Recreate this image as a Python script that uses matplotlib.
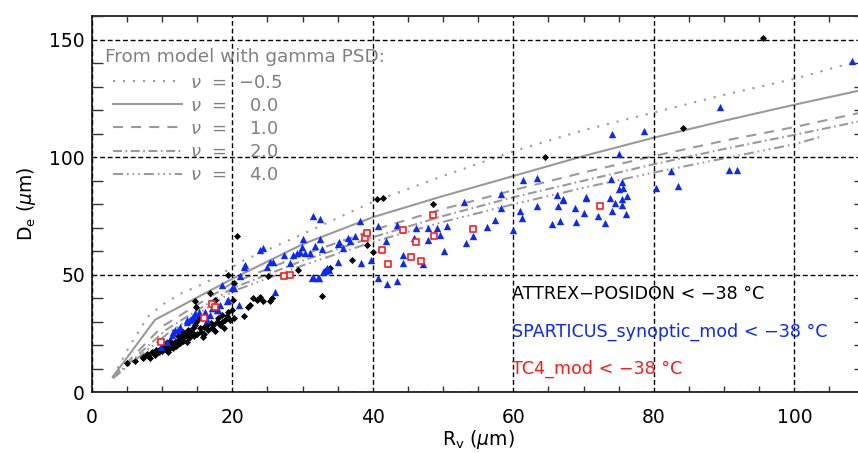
import matplotlib
matplotlib.use('Agg')
import matplotlib.pyplot as plt
from matplotlib.lines import Line2D
from matplotlib.ticker import MultipleLocator

plt.rcParams['font.family'] = ['DejaVu Sans']
plt.rcParams['mathtext.fontset'] = 'dejavusans'

# ---------------- model curves (gamma PSD) ----------------
rv_nu_m05 = [3, 5.2, 8, 10.4, 12.8, 16.1, 19.4, 21.3, 28.2, 40, 50, 60, 70, 80, 90, 100, 108]
de_nu_m05 = [6.5, 18.8, 32.3, 38, 42.2, 46.5, 52.1, 55.7, 64.9, 81, 92, 102.5, 111.5, 119, 126.5, 133.3, 140]

rv_nu_0 = [3, 9, 20, 30, 40, 50, 60, 70, 80, 90, 100, 110]
de_nu_0 = [6.7, 30.9, 48.3, 63, 74.5, 83.5, 92, 100.5, 108.3, 115.5, 122.3, 128.8]

rv_nu_1 = [3, 10, 20, 30, 40, 50, 60, 70, 80, 90, 100, 110]
de_nu_1 = [6.5, 28, 46.5, 58.5, 69, 78, 86, 93.5, 100.5, 107, 112.8, 119.3]

rv_nu_2 = [3, 10.5, 20, 30, 40, 50, 60, 70, 80, 90, 100, 110]
de_nu_2 = [6.3, 26.5, 44.3, 56, 66, 75, 83, 90, 97, 103.5, 109.5, 115.7]

rv_nu_4 = [3, 11, 20, 30, 40, 50, 60, 70, 80, 90, 100, 104]
de_nu_4 = [6, 25.5, 42.9, 54, 64, 72.5, 80, 87, 93.5, 99.5, 105.5, 108.9]

legend_title = 'From model with gamma PSD:'
nu_labels = ['$\\nu$  =  \u22120.5', '$\\nu$  =    0.0', '$\\nu$  =    1.0',
             '$\\nu$  =    2.0', '$\\nu$  =    4.0']

# ---------------- observations ----------------
attrex_rv = [5.0, 7.3, 7.3, 8.0, 8.0, 8.5, 8.8, 9.2, 9.7, 10.2, 10.4, 10.7, 11.1, 11.4, 11.8, 12.1,
             12.3, 12.6, 12.8, 13.0, 13.3, 13.5, 13.7, 14.0, 14.2, 14.4, 14.7, 14.9, 15.2, 14.7,
             14.9, 15.4, 15.6, 15.9, 16.1, 16.4, 16.6, 16.8, 17.1, 17.3, 17.5, 17.8, 18.0, 18.2,
             18.5, 19.0, 19.2, 19.4, 19.7, 19.9, 20.1, 19.4, 20.6, 20.2, 20.2, 21.7, 22.3, 22.5,
             23.0, 23.5, 23.9, 24.4, 25.4, 25.6, 25.1, 29.4, 32.7, 33.4, 33.9, 37.0, 39.1, 39.1,
             40.0, 40.6, 41.5, 48.5, 64.5, 84.2, 95.5,
             9.5, 10.0, 11.0, 11.5, 12.0, 12.5, 13.0, 13.8, 14.5, 15.0, 10.5, 11.2, 12.2, 16.0,
             17.5, 18.8, 7.8, 9.0, 8.3, 6.2, 10.9, 13.6, 15.8, 17.0, 18.6]
attrex_de = [12.4, 14.5, 15.2, 15.3, 15.9, 17.3, 17.4, 18.1, 18.4, 19.2, 20.2, 18.1, 19.5, 20.9, 21.6, 20.2,
             22.3, 23.5, 24.5, 25.9, 23.8, 25.2, 26.6, 24.5, 25.9, 27.3, 28.7, 30.1, 31.6, 38.7,
             36.5, 27.3, 25.9, 28.0, 32.3, 28.7, 26.6, 42.2, 27.3, 28.7, 39.4, 30.1, 31.6, 28.7,
             30.1, 30.9, 32.3, 34.4, 30.9, 35.1, 39.4, 50.0, 66.3, 46.4, 31.6, 32.7, 36.2, 37.2,
             40.0, 39.5, 40.5, 39.0, 39.0, 40.0, 49.3, 52.1, 41.1, 52.1, 52.8, 56.4, 62.7, 67.7,
             59.9, 82.2, 82.6, 80.2, 100.0, 112.4, 150.7,
             17.0, 17.8, 18.5, 19.0, 19.8, 21.0, 22.0, 23.0, 24.0, 25.0, 21.0, 22.0, 24.0, 25.0,
             26.0, 27.5, 16.5, 16.0, 14.8, 13.5, 17.2, 21.5, 23.6, 29.5, 32.8]

sparticus_rv = [10.7, 11.4, 11.8, 12.6, 13.5, 14.2, 14.7, 15.2, 16.4, 16.8, 17.3, 18.0, 18.2, 18.5,
                19.4, 19.9, 20.9, 21.1, 21.6,
                9.9, 11.6, 12.3, 13.5, 14.0, 14.5, 16.1, 17.1, 17.8, 19.2, 20.2, 21.8, 23.9, 24.4,
                24.9, 25.4, 25.8, 26.1, 27.3, 28.2, 28.7, 29.2, 29.9, 30.4, 31.1, 31.3, 32.2, 32.5,
                33.2, 33.7, 35.1,
                31.5, 32.5, 30.1, 29.6, 31.8, 32.7, 31.5, 32.3, 32.9, 33.5, 35.1, 35.2, 35.7, 36.5,
                36.8, 37.5, 38.2, 38.3, 39.8, 40.8, 40.8, 41.9, 42.0, 43.5, 43.5, 44.3, 44.3, 45.8,
                46.2, 47.1, 47.8, 47.8, 49.1, 49.5, 50.1, 50.5, 53.0, 53.3, 54.3, 56.2, 57.4, 58.3,
                58.3, 60.0, 61.0, 61.3, 61.4, 63.3, 63.3, 66.4, 66.6, 67.1, 68.8, 68.9, 70.0, 70.4,
                108.2, 89.4, 74.0, 78.6, 75.0, 90.7, 91.9, 82.4, 73.9, 75.5, 83.5, 80.3, 75.1, 75.6,
                76.2, 75.4, 70.4, 73.7, 66.2, 67.1,
                74.5, 75.5, 74.0, 72.0, 76.0, 73.0, 65.5]
sparticus_de = [21.6, 24.5, 26.6, 28.0, 30.1, 31.6, 33.7, 34.4, 30.9, 33.0, 35.8, 35.1, 37.2, 45.7,
                39.4, 44.3, 37.2, 49.3, 53.5,
                19.5, 25.9, 26.6, 30.9, 30.9, 32.3, 34.4, 35.8, 35.1, 38.7, 44.3, 54.2, 60.6, 61.3,
                53.5, 55.6, 55.6, 42.9, 58.5, 55.0, 58.5, 59.2, 62.0, 59.2, 59.2, 48.6, 48.6, 65.3,
                51.8, 52.1, 63.3,
                74.8, 73.7, 65.2, 59.9, 62.1, 60.9, 49.0, 48.6, 51.4, 52.8, 55.3, 63.8, 61.4, 65.6,
                64.2, 66.3, 72.7, 55.0, 56.4, 70.6, 48.6, 64.2, 46.2, 47.2, 71.3, 58.5, 55.0, 65.6,
                69.9, 54.7, 69.9, 64.9, 69.9, 67.0, 60.0, 70.9, 80.8, 63.5, 66.6, 70.3, 73.1, 78.4,
                84.5, 69.2, 77.0, 74.1, 90.4, 91.0, 79.1, 79.1, 72.7, 81.9, 78.4, 72.3, 76.2, 82.6,
                140.8, 121.3, 110.0, 111.0, 101.4, 94.7, 94.7, 94.0, 90.7, 89.6, 87.6, 86.9, 86.5, 86.7,
                83.3, 82.2, 82.9, 82.6, 84.1, 82.2,
                80.5, 79.5, 77.0, 75.0, 76.0, 72.0, 71.5]

tc4_rv = [9.9, 15.9, 17.1, 17.5, 27.3, 28.2, 38.9, 39.2, 41.3, 42.2, 44.3, 45.4, 46.1, 46.9,
          48.6, 48.7, 54.3, 72.3]
tc4_de = [21.6, 31.6, 37.7, 36.5, 49.4, 50.1, 65.6, 67.7, 60.5, 54.7, 68.9, 57.5, 63.8, 55.7,
          75.3, 66.7, 69.6, 79.1]

obs_labels = ['ATTREX\u2212POSIDON < \u221238 \u00b0C',
              'SPARTICUS_synoptic_mod < \u221238 \u00b0C',
              'TC4_mod < \u221238 \u00b0C']

# ---------------- figure ----------------
fig = plt.figure(figsize=(8.58, 4.53), dpi=100)
ax = fig.add_axes([0.107, 0.1336, 0.9007, 0.831])

gray = '#9a9a9a'
lw = 1.5
styles = [(0, (1, 3.8)), '-', (0, (4.8, 3.9)), (0, (4.3, 1.7, 0.8, 1.7)),
          (0, (4.8, 1.9, 0.8, 1.9, 0.8, 1.9, 0.8, 1.9))]
curves = [(rv_nu_m05, de_nu_m05), (rv_nu_0, de_nu_0), (rv_nu_1, de_nu_1),
          (rv_nu_2, de_nu_2), (rv_nu_4, de_nu_4)]
handles = []
for (xs, ys), ls in zip(curves, styles):
    ax.plot(xs, ys, color=gray, lw=lw, linestyle=ls, zorder=2)
    handles.append(Line2D([], [], color=gray, lw=lw, linestyle=ls))

ax.scatter(attrex_rv, attrex_de, marker='D', s=13, color='black', linewidths=0, zorder=3)
ax.scatter(sparticus_rv, sparticus_de, marker='^', s=28, color='#0a28ff', linewidths=0, zorder=4)
ax.scatter(tc4_rv, tc4_de, marker='s', s=18, facecolor='white', edgecolor='#ff1a1a',
           linewidths=1.2, zorder=5)

ax.set_xlim(0, 110)
ax.set_ylim(0, 160)
ax.xaxis.set_major_locator(MultipleLocator(20))
ax.xaxis.set_minor_locator(MultipleLocator(5))
ax.yaxis.set_major_locator(MultipleLocator(50))
ax.yaxis.set_minor_locator(MultipleLocator(10))
ax.grid(True, which='major', color='black', linestyle=(0, (3.5, 2)), linewidth=1.0)
ax.set_axisbelow(False)
ax.tick_params(which='major', length=0, labelsize=13.5, top=True, right=True)
ax.tick_params(axis='x', which='major', pad=11)
ax.tick_params(axis='y', which='major', pad=5)
ax.tick_params(axis='y', which='minor', direction='in', length=8, width=1.0,
               left=True, right=True, color='#333333')
ax.tick_params(axis='x', which='minor', direction='in', length=4.5, width=1.0,
               bottom=True, top=True, color='#333333')
for sp in ax.spines.values():
    sp.set_linewidth(1.3)
    sp.set_color('#222222')

ax.set_xlabel('R$_\\mathrm{v}$ ($\\mu$m)', fontsize=13.5, labelpad=1)
ax.set_ylabel('D$_\\mathrm{e}$ ($\\mu$m)', fontsize=13.5, labelpad=8)

ax.text(0.0171, 0.891, legend_title, transform=ax.transAxes, color='#808080',
        fontsize=13.3, va='center', ha='left', zorder=6)
leg = ax.legend(handles, nu_labels, loc='upper left',
                bbox_to_anchor=(0.0181, 0.866), frameon=False, fontsize=13,
                handlelength=3.83, handletextpad=0.44,
                labelspacing=0.28, borderaxespad=0.0)
for t in leg.get_texts():
    t.set_color('#808080')
leg.set_zorder(6)

colors = ['black', '#0a28ff', '#ff1a1a']
ypos = [41.8, 25.9, 10.2]
for lab, c, yy in zip(obs_labels, colors, ypos):
    ax.text(59.8, yy, lab, color=c, fontsize=12.6, va='center', ha='left', zorder=7)

fig.savefig('out.png', dpi=100)
